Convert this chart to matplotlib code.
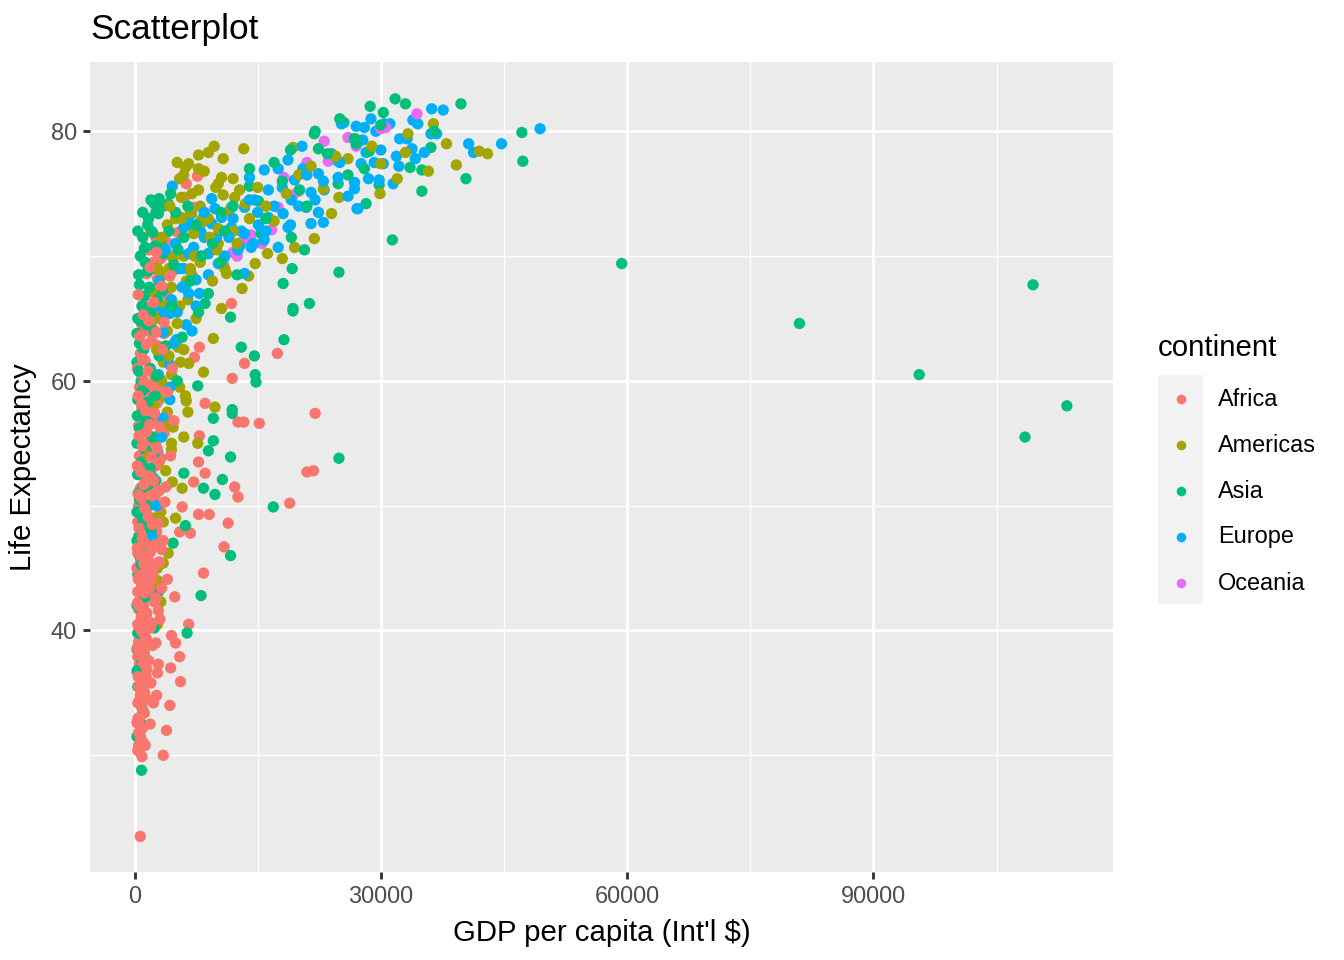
import pandas as pd
import numpy as np
import matplotlib.pyplot as plt
from matplotlib.lines import Line2D
from matplotlib.patches import Rectangle

plt.rcParams['font.family'] = ['Liberation Sans', 'DejaVu Sans']

# values (GDP per capita, life expectancy)
africa_gdp = [7660, 6300, 6100, 7200, 5700, 5300, 4500, 3200, 4900, 3000, 3900, 11800, 7900, 7300,
              13400, 11900, 17400, 8600, 12600, 13300, 15200, 22000, 7900, 7800, 8600, 7200, 12200,
              12600, 21000, 21800, 18900, 5800, 7800, 9100, 11400, 5500, 6800, 10900, 8400, 4900,
              6600, 4500, 5000, 5500, 2900, 4400, 5600, 2700, 4300, 3900, 3500, 700, 600,
              2000, 2600, 1700, 3800, 2300, 1500, 2800, 4200, 1900, 1200, 2500, 3300,
              900, 1600, 2100, 2900, 3600, 700, 1300, 1900, 2400, 4100, 3100, 1100,
              600, 1400, 2000, 2700, 3400, 900, 1700, 2300, 4000, 500, 1200, 2900, 1900, 3600, 800,
              1500, 2200, 600, 1000, 2600, 3200, 1800, 400, 1300, 2100, 700, 3800, 1600, 2500, 1000,
              500, 2000, 3000,
              1400, 800, 2300, 400, 1100, 1800, 2700, 600, 1500, 900, 2100, 3300, 400, 1200, 1700,
              700, 2500, 1000, 300,
              1400, 600, 2000, 900, 1300, 400, 1700, 700, 2400, 1100, 500, 1500, 800, 2900, 1200,
              400, 1900, 700,
              1000, 1400, 500, 2200, 800, 1200, 400, 1700, 600, 1000, 300, 1400, 800, 2000, 500, 1100,
              700, 1500, 400, 900, 1200, 600, 300, 1000, 500, 800, 1300, 400, 900]
africa_life = [76.4, 75.8, 74.7, 73.9, 73.1, 71.9, 70.0, 69.8, 68.9, 67.8, 67.0, 66.2, 62.7, 61.9,
               61.4, 60.2, 62.2, 58.2, 56.7, 56.7, 56.6, 57.4, 55.6, 53.5, 52.6, 51.9, 51.5,
               50.7, 52.7, 52.8, 50.2, 49.9, 49.3, 49.3, 48.6, 47.9, 47.8, 46.7, 44.6, 42.7,
               40.5, 39.6, 39.0, 37.9, 37.3, 37.0, 35.9, 34.8, 34.0, 32.0, 30.0, 23.5, 30.3,
               72.0, 71.5, 70.5, 71.2, 69.5, 68.6, 68.2, 66.5, 67.2, 66.0, 65.6, 65.2,
               64.5, 64.0, 63.2, 62.8, 63.8, 62.2, 61.6, 61.0, 60.5, 61.9, 60.2, 60.0,
               59.5, 59.0, 58.6, 58.2, 59.3, 57.8, 57.3, 56.9, 57.0, 56.4, 56.0, 55.6, 55.3, 55.8, 55.0,
               54.7, 54.3, 54.0, 53.6, 53.2, 53.8, 52.9, 52.5, 52.2, 51.8, 51.4, 51.5, 51.1, 50.7, 50.4,
               50.0, 50.2, 49.9,
               49.6, 49.3, 49.0, 48.7, 48.4, 48.1, 47.9, 47.6, 47.3, 47.0, 46.7, 46.5, 46.2, 45.9, 45.6,
               45.4, 45.2, 44.9, 45.0,
               44.6, 44.3, 44.0, 43.7, 43.4, 43.1, 42.8, 42.5, 42.3, 42.0, 41.7, 41.4, 41.1, 41.6, 40.8,
               40.5, 40.2, 40.0,
               39.7, 39.4, 39.1, 38.8, 38.5, 38.2, 37.9, 37.6, 37.3, 37.0, 36.7, 36.4, 36.1, 35.8, 35.5, 35.2,
               34.8, 34.5, 34.2, 33.8, 33.4, 33.0, 32.6, 32.2, 31.8, 31.3, 30.8, 30.4, 29.9]
africa_core_gdp = [350, 750, 1150, 1650, 2250, 450, 850, 1350, 1850, 2450, 3100, 550, 950, 1450,
                   2050, 2750, 350, 750, 1150, 1750, 2350, 3000, 450, 850, 1250, 1650, 2150, 2900,
                   550, 950, 1350, 1950, 2550, 350, 750, 1150, 1550, 2250, 3000, 450, 850, 1250,
                   1800, 2600, 350, 650, 1050, 1450, 2100, 550, 900, 1300, 1800, 2600, 350, 700,
                   1100, 1500, 450, 850, 1250, 600, 1000, 400, 700, 1100, 500,
                   450, 1050, 1750, 2350, 650, 1450, 2650, 950, 3400, 1900, 2700, 3300, 4300, 3600,
                   4600, 4000, 4800, 4400, 3700, 3500, 4000, 3300, 3100, 2800, 2300, 1900]
africa_core_life = [61.0, 60.6, 59.8, 60.8, 59.6, 58.8, 58.1, 57.6, 56.5, 57.4, 56.3, 55.6, 54.8, 55.9,
                    53.9, 54.6, 53.2, 52.7, 51.7, 52.4, 52.0, 51.2, 50.9, 50.6, 49.8, 49.1, 48.5, 48.6,
                    48.2, 47.4, 46.9, 46.3, 46.9, 46.6, 46.0, 45.3, 44.8, 44.5, 45.5, 44.1, 43.5, 43.0,
                    43.3, 42.6, 42.2, 41.9, 41.3, 40.9, 40.6, 40.3, 39.9, 39.2, 38.9, 39.0, 38.6, 38.0,
                    37.4, 36.9, 36.3, 35.7, 35.0, 34.4, 33.6, 32.9, 31.6, 31.0, 30.8,
                    66.9, 65.3, 64.8, 66.3, 63.6, 62.9, 63.9, 61.8, 62.5, 69.1, 70.3, 67.6, 68.4, 64.7,
                    61.0, 59.1, 56.8, 54.0, 50.3, 47.2, 44.1, 43.4, 40.9, 36.6, 34.2, 32.5]

americas_gdp = [9700, 9000, 7800, 10800, 13300, 6600, 6200, 19300, 10600, 10200, 9900, 12000, 12800,
                5500, 5700, 7800, 10800, 12200, 24000, 21900, 18000, 19500, 16200, 14700, 13900,
                13100, 11200, 10200, 9000, 8100, 24900, 10600,
                36400, 33300, 43000, 39200, 35800, 32000, 29900, 28900,
                9600, 8400, 6600, 9800, 7700, 6000, 4600, 5800, 3500, 5000, 4100, 5300, 6300, 4700, 4500,
                3500, 2800, 3200, 2800,
                2000, 3000, 4000, 5000, 6000, 3500, 4500, 5500, 2500, 7000, 6500, 3000, 4000, 5000, 2000,
                6000, 3500, 4500, 2500, 5500, 3000, 4000, 2000, 6500, 3500, 2500, 4500, 3000, 2000, 3800,
                2600, 1800, 3200, 2200, 1500, 2800, 1900, 8000, 9000, 7000, 6000, 5200, 8500, 11500,
                13500, 15000, 17000, 20000, 23000, 26000, 30000, 33000, 38000, 42000, 8000, 9500, 7200,
                12000, 10000, 5000, 8100, 10200, 6800, 4200, 7500,
                2300, 3300, 4200, 5200, 6300, 7300, 2700, 3700, 4700, 5700, 1700, 2400, 4200, 5600,
                6800, 7800, 9200, 11000, 12500, 14000, 16000, 18500, 21500, 24500, 3300, 4300, 2800, 6200]
americas_life = [78.8, 78.3, 78.1, 77.8, 78.6, 77.4, 77.1, 78.7, 76.3, 75.8, 75.5, 76.2, 75.3,
                 76.2, 74.7, 75.3, 74.9, 74.7, 73.4, 71.4, 69.8, 70.7, 70.2, 69.4, 68.4,
                 67.4, 68.6, 71.0, 70.2, 72.6, 74.7, 65.8,
                 80.6, 79.8, 78.2, 77.3, 76.8, 76.2, 75.0, 78.8,
                 63.4, 60.7, 61.4, 57.9, 55.0, 55.5, 51.9, 51.4, 48.7, 49.0, 46.2, 62.7, 58.4, 56.3, 55.0,
                 45.4, 44.0, 42.3, 40.5,
                 72.0, 70.5, 72.5, 71.0, 70.0, 68.5, 67.5, 66.0, 67.0, 68.5, 66.5, 65.0, 64.0, 63.0, 64.5,
                 62.5, 61.5, 60.5, 60.0, 59.5, 58.5, 57.5, 57.0, 57.5, 56.0, 55.0, 54.5, 53.5, 52.5, 52.8,
                 51.0, 50.0, 49.5, 47.5, 46.0, 45.0, 43.5, 74.0, 73.0, 75.0, 76.5, 77.5, 76.8, 73.6,
                 74.2, 75.5, 72.8, 76.5, 75.4, 77.8, 77.4, 78.3, 79.0, 78.4, 69.5, 68.0, 71.8,
                 72.0, 70.5, 73.0, 72.9, 72.2, 69.0, 69.0, 65.0,
                 58.0, 60.0, 62.0, 64.6, 68.0, 70.0, 62.5, 66.0, 69.8, 73.0, 54.0, 49.0, 56.5, 61.5,
                 73.5, 77.0, 71.5, 69.0, 71.0, 73.0, 74.0, 75.0, 77.2, 78.0, 71.5, 74.0, 69.0, 58.8]

asia_gdp = [59340, 80990, 95580, 109440, 113570, 108470,
            31740, 28700, 30300, 39760, 47180, 47300, 36100, 33560, 35000, 40370, 35000, 29800,
            28200, 31400, 26900, 28600,
            25500, 21900, 26750, 22400, 24800, 20100, 24800, 19100, 20700, 19200, 24900, 18100,
            21300, 19300, 2400, 4100, 1700, 1200, 15100, 15400, 14000,
            8600, 11700, 19300, 18200, 13000, 14600, 14700, 14800, 7700, 11900, 11900, 9600, 9600,
            9000, 11700, 24900, 6000, 10700, 8400, 9800, 16900, 6200, 4700, 3300, 11700,
            8100, 6400, 850, 850, 850, 850, 850, 2400, 2900, 850, 1200,
            400, 1000, 1600, 2600, 3200, 700, 1300, 2200, 3600, 500, 1800, 2800, 900, 400, 1500, 2400,
            600, 1100, 3000, 300, 1900, 800, 1400, 2500, 400, 1000, 1700, 600, 2200, 300, 1300, 800,
            1900, 400, 1100, 2600, 600, 1500, 300, 900, 2000, 500, 1200, 700, 400, 1500, 600, 300,
            1000, 500, 800, 300, 1100, 600, 400, 700, 500, 300,
            2000, 3500, 5000, 4200, 6000, 5300, 7500, 8200, 9500, 11000, 10500, 6800, 9000, 12500,
            7800, 4500, 5800, 2900, 1300,
            14000, 17000, 19000, 22000, 25000, 27000, 30000, 33000, 36500, 12000, 16000, 18000,
            23500, 26000, 21000, 28000, 10500,
            300, 700, 1200, 2000, 500, 900, 1600, 2700, 350, 750, 1400, 2400, 450, 1000, 1700, 300,
            800, 1300, 400, 900, 350, 600, 1600, 2500, 3400, 4800, 6500, 3800, 5200, 2200, 1000,
            3000, 4400, 600]
asia_life = [69.4, 64.6, 60.5, 67.7, 58.0, 55.5,
             82.6, 82.0, 81.5, 82.2, 79.9, 77.6, 78.7, 77.1, 76.9, 76.2, 75.2, 75.7,
             74.2, 71.3, 79.4, 78.4,
             80.7, 79.8, 79.4, 78.6, 77.6, 75.3, 75.8, 71.5, 70.5, 69.0, 68.7, 67.8,
             66.2, 65.8, 74.2, 74.2, 73.0, 70.6, 74.4, 71.8, 75.6,
             66.2, 65.1, 65.6, 63.3, 62.7, 62.0, 60.5, 59.9, 59.6, 57.7, 57.4, 57.0, 55.2,
             54.4, 53.9, 53.8, 52.6, 52.1, 51.4, 50.9, 49.9, 48.4, 47.0, 47.1, 46.0,
             42.8, 39.8, 28.8, 32.5, 33.9, 35.1, 37.0, 40.2, 43.1, 45.4, 43.1,
             72.0, 71.5, 72.5, 73.5, 71.0, 70.0, 69.5, 69.0, 70.2, 68.5, 67.5, 66.5, 66.0, 65.0, 64.5, 64.0,
             63.0, 62.5, 62.0, 61.5, 61.0, 60.0, 59.5, 58.8, 58.5, 57.5, 57.0, 56.2, 55.5, 55.0, 54.5, 53.5,
             53.0, 52.5, 51.5, 52.0, 50.5, 50.0, 49.5, 48.5, 48.0, 47.5, 46.5, 45.8, 44.5, 44.0, 43.0, 42.0,
             41.5, 40.5, 39.5, 38.5, 38.0, 36.5, 35.5, 34.5, 33.0, 31.5,
             74.5, 74.0, 73.5, 72.0, 71.5, 70.5, 72.5, 70.0, 71.0, 72.0, 69.5, 68.0, 67.0, 68.5,
             65.5, 66.0, 63.5, 73.4, 70.7,
             77.0, 77.5, 78.5, 80.0, 81.0, 79.0, 80.5, 82.2, 80.0, 74.0, 73.0, 76.0,
             78.2, 76.5, 74.0, 77.0, 73.5,
             63.8, 64.8, 66.8, 65.5, 60.8, 59.2, 58.3, 60.4, 57.2, 55.9, 56.7, 54.2, 51.0, 49.0, 51.7, 47.2,
             45.3, 42.7, 39.8, 37.6, 36.8, 41.8, 68.8, 70.8, 67.2, 69.3, 74.0, 62.8, 60.0, 71.9, 73.5,
             74.6, 75.0, 67.7]

europe_gdp = [36200, 37600, 49400, 44700, 40700, 41300, 28800, 28000, 30400, 31100, 33900, 34500,
              36100, 36800, 32300, 33200, 29400, 27800, 30000, 28200, 33800, 35300, 31900, 34200,
              29200, 30300, 32200, 27600, 28500, 29800, 26800, 27200, 31500,
              25200, 27000, 20400, 24000, 18700, 20500, 22400, 24800, 26800, 27100, 15800, 17500,
              14000, 19500, 21500, 23100, 16300, 14600, 19100, 20900, 22400, 18100, 16300, 13400,
              11800, 10600, 9400, 8500, 11800, 13400, 15100, 15800, 17500, 18700, 21500, 23000,
              12600, 14200, 10900, 8100, 7200, 6600, 9000, 10200, 7500, 6600, 7900, 4600, 9400,
              6900, 6000, 13400,
              4300, 6300, 5100, 3500, 4300, 4300, 3500, 2800, 2300, 1900,
              3000, 4500, 5500, 3800, 6200, 2500, 4000, 5200, 7000,
              5000, 6000, 7000, 8000, 9000, 10000, 11000, 12000, 13000, 14000, 15000, 16000, 17000,
              18000, 19000, 20000, 21000, 22000, 23000, 25000, 26000, 6500, 8500, 9800, 11500, 12800,
              14500, 5800, 7500, 3600, 4800, 2900, 4300, 3300, 2700, 2100]
europe_life = [81.8, 81.7, 80.2, 79.0, 79.0, 78.3, 81.0, 80.3, 80.6, 80.6, 80.9, 80.6,
               79.8, 79.8, 79.4, 79.4, 80.0, 79.3, 78.5, 78.3, 78.6, 78.3, 78.0, 77.8,
               77.5, 77.4, 77.2, 77.4, 76.2, 76.1, 75.9, 73.8, 75.8,
               80.6, 80.4, 78.8, 78.2, 77.7, 77.0, 76.6, 76.3, 75.4, 73.8, 76.9, 77.0,
               76.3, 76.1, 75.1, 75.3, 75.3, 74.5, 74.5, 73.9, 73.5, 73.4, 73.1, 73.9,
               73.9, 73.1, 72.6, 71.5, 72.3, 71.8, 72.5, 71.3, 70.7, 72.3, 72.6, 72.7,
               70.5, 70.7, 69.9, 71.9, 70.7, 70.2, 70.2, 69.4, 68.1, 67.0, 67.0, 75.6, 74.6,
               73.4, 72.3, 68.6,
               65.4, 64.5, 63.3, 63.9, 61.3, 59.5, 57.0, 54.3, 52.2, 43.6,
               68.0, 66.5, 69.0, 70.5, 67.5, 66.0, 62.0, 65.5, 64.0,
               71.0, 69.0, 72.5, 70.0, 68.5, 71.5, 70.0, 73.0, 72.0, 74.5, 73.5, 72.0, 74.0,
               75.5, 72.5, 74.0, 76.5, 74.5, 76.0, 77.5, 74.8, 73.0, 73.5, 73.8, 71.5, 70.8,
               71.0, 67.5, 66.0, 65.5, 63.0, 60.5, 58.5, 55.5, 50.0, 47.5]

oceania_gdp = [23100, 27000, 23600, 21000, 18200, 17500, 16700, 13300, 14200, 12000, 19300, 10600,
               34400, 30600, 10800, 20000, 15500, 12500, 26000, 30000]
oceania_life = [79.2, 78.8, 77.6, 77.5, 76.3, 73.9, 72.1, 71.3, 71.7, 70.3, 74.9, 69.5,
                81.4, 80.3, 69.4, 75.2, 71.0, 70.0, 79.5, 80.2]

continents = ['Africa', 'Americas', 'Asia', 'Europe', 'Oceania']
colors = ['#F8766D', '#A3A500', '#00BF7D', '#00B0F6', '#E76BF3']

frames = []
for name, g, l in zip(continents,
                      [africa_gdp + africa_core_gdp, americas_gdp, asia_gdp, europe_gdp, oceania_gdp],
                      [africa_life + africa_core_life, americas_life, asia_life, europe_life, oceania_life]):
    frames.append(pd.DataFrame({'gdp': g, 'life': l, 'continent': name}))
df = pd.concat(frames, ignore_index=True)
# interleave continents the way rows mix in the original data set
df['k'] = df.groupby('continent').cumcount()
df = df.sort_values(['k', 'continent'], kind='stable')
cmap = dict(zip(continents, colors))

fig = plt.figure(figsize=(7, 5), dpi=192)
ax = fig.add_axes([90 / 1344, 88 / 960, 1023 / 1344, 810 / 960])
ax.set_facecolor('#EBEBEB')
ax.scatter(df['gdp'], df['life'], c=df['continent'].map(cmap), s=18, linewidths=0, zorder=3)

ax.set_xlim(-5423, 119187)
ax.set_ylim(20.65, 85.55)
ax.set_xticks([0, 30000, 60000, 90000])
ax.set_xticklabels(['0', '30000', '60000', '90000'])
ax.set_yticks([40, 60, 80])
ax.set_xticks([15000, 45000, 75000, 105000], minor=True)
ax.set_yticks([30, 50, 70], minor=True)
ax.grid(True, which='major', color='white', linewidth=1.07, zorder=1)
ax.grid(True, which='minor', color='white', linewidth=0.53, zorder=1)
ax.set_axisbelow(True)
for sp in ax.spines.values():
    sp.set_visible(False)
ax.tick_params(which='major', length=2.75, width=1.07, color='#333333',
               labelcolor='#4D4D4D', labelsize=8.8, pad=2.2)
ax.tick_params(which='minor', length=0)
ax.set_xlabel("GDP per capita (Int'l $)", fontsize=11, labelpad=4)
ax.set_ylabel('Life Expectancy', fontsize=11, labelpad=5)
fig.text(90 / 1344, 1 - 30 / 960, 'Scatterplot', fontsize=13.2, ha='left', va='center')

# legend drawn by hand to match the ggplot guide
fig.text(1158 / 1344, 1 - 348 / 960, 'continent', fontsize=11, ha='left', va='center')
fig.add_artist(Rectangle((1158 / 1344, 1 - 604 / 960), 45 / 1344, 229 / 960,
                         transform=fig.transFigure, color='#F2F2F2', lw=0))
for i, (name, col) in enumerate(zip(continents, colors)):
    yy = 1 - (399 + 46 * i) / 960
    fig.add_artist(Line2D([1181 / 1344], [yy], marker='o', markersize=3.6, color=col,
                          markeredgewidth=0, transform=fig.transFigure))
    fig.text(1218 / 1344, yy, name, fontsize=8.8, ha='left', va='center')

fig.savefig('out.png', dpi=192)
